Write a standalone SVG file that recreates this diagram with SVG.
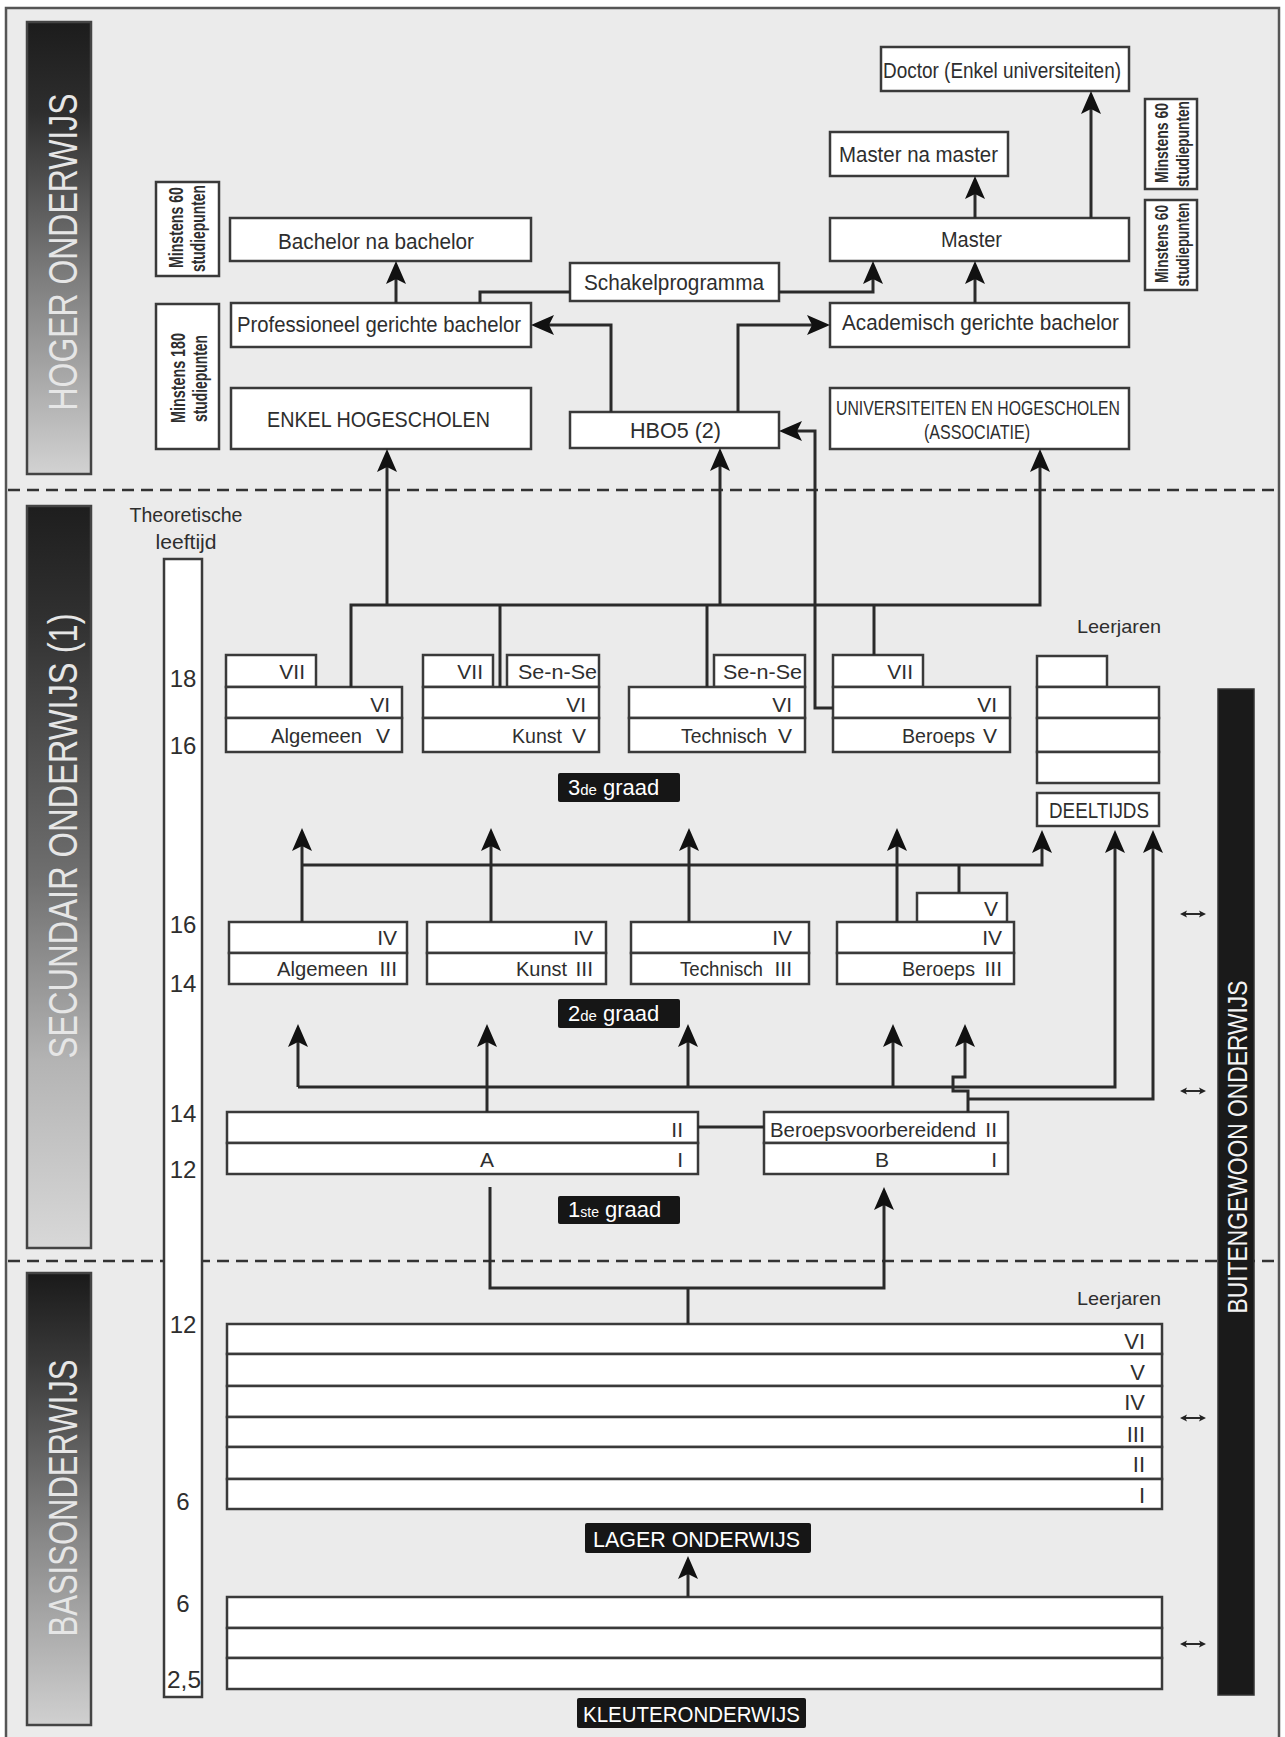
<svg xmlns="http://www.w3.org/2000/svg" width="1285" height="1737" viewBox="0 0 1285 1737">
<style>
.box{fill:#fff;stroke:#3a3a3a;stroke-width:2.5}
.ln{fill:none;stroke:#2a2a2a;stroke-width:3}
.arr{marker-end:url(#ah)}
.dash{fill:none;stroke:#333;stroke-width:2.5;stroke-dasharray:12 7}
.t{font-family:"Liberation Sans",Arial,sans-serif;fill:#2e2e2e}
.f22{font-size:22px}
.f21{font-size:21px}
.f19{font-size:19px}
.e{text-anchor:end}
.age{font-size:24px;text-anchor:middle}
.mn{font-size:21px;font-weight:bold;text-anchor:middle}
.bar{font-family:"Liberation Sans",Arial,sans-serif;font-size:40px;fill:#e6e6e6;text-anchor:middle}
.lbl{fill:#161616}
.lt{font-family:"Liberation Sans",Arial,sans-serif;fill:#fff;font-size:22px}
.sm{fill:none;stroke:#2a2a2a;stroke-width:2;marker-start:url(#sa);marker-end:url(#sa)}
</style>
<defs>
<marker id="ah" viewBox="-24 -11 25 22" markerWidth="25" markerHeight="22" refX="-10" refY="0" orient="auto" markerUnits="userSpaceOnUse">
<path d="M0,0 L-23,-10 L-18,0 L-23,10 Z" fill="#111"/>
</marker>
<marker id="sa" viewBox="-8 -4 9 8" markerWidth="9" markerHeight="8" refX="-3" refY="0" orient="auto-start-reverse" markerUnits="userSpaceOnUse">
<path d="M0,0 L-7,-3.5 L-5.5,0 L-7,3.5 Z" fill="#222"/>
</marker>
<linearGradient id="gH" x1="0" y1="0" x2="0" y2="1">
<stop offset="0" stop-color="#1c1c1c"/><stop offset="0.2" stop-color="#2e2e2e"/><stop offset="0.55" stop-color="#7a7a7a"/><stop offset="1" stop-color="#d2d2d2"/>
</linearGradient>
<linearGradient id="gS" x1="0" y1="0" x2="0" y2="1">
<stop offset="0" stop-color="#1e1e1e"/><stop offset="0.15" stop-color="#303030"/><stop offset="0.5" stop-color="#6f6f6f"/><stop offset="0.75" stop-color="#b4b4b4"/><stop offset="1" stop-color="#d8d8d8"/>
</linearGradient>
<linearGradient id="gB" x1="0" y1="0" x2="0" y2="1">
<stop offset="0" stop-color="#1a1a1a"/><stop offset="0.2" stop-color="#3a3a3a"/><stop offset="0.6" stop-color="#8a8a8a"/><stop offset="1" stop-color="#d0d0d0"/>
</linearGradient>
</defs>

<rect x="0" y="0" width="1285" height="1737" fill="#ffffff"/>
<rect id="frame" x="6" y="8" width="1273" height="1740" fill="#ebebeb" stroke="#555" stroke-width="2.5"/>

<g id="dividers">
<line class="dash" x1="8" y1="490" x2="1278" y2="490"/>
<line class="dash" x1="8" y1="1261" x2="1278" y2="1261"/>
</g>

<g id="bar-hoger">
<rect x="27" y="22" width="64" height="452" fill="url(#gH)" stroke="#444" stroke-width="2.5"/>
<text class="bar" transform="translate(77,252) rotate(-90)" textLength="317" lengthAdjust="spacingAndGlyphs">HOGER ONDERWIJS</text>
</g>
<g id="bar-secundair">
<rect x="27" y="506" width="64" height="742" fill="url(#gS)" stroke="#444" stroke-width="2.5"/>
<text class="bar" transform="translate(77,836) rotate(-90)" textLength="445" lengthAdjust="spacingAndGlyphs">SECUNDAIR ONDERWIJS (1)</text>
</g>
<g id="bar-basis">
<rect x="27" y="1273" width="64" height="452" fill="url(#gB)" stroke="#444" stroke-width="2.5"/>
<text class="bar" transform="translate(77,1498) rotate(-90)" textLength="277" lengthAdjust="spacingAndGlyphs">BASISONDERWIJS</text>
</g>

<g id="leeftijd">
<text class="t f21" x="186" y="522" text-anchor="middle" textLength="113" lengthAdjust="spacingAndGlyphs">Theoretische</text>
<text class="t f21" x="186" y="549" text-anchor="middle" textLength="61" lengthAdjust="spacingAndGlyphs">leeftijd</text>
<rect class="box" x="164" y="559" width="38" height="1138"/>
<text class="t age" x="183" y="687">18</text>
<text class="t age" x="183" y="754">16</text>
<text class="t age" x="183" y="933">16</text>
<text class="t age" x="183" y="992">14</text>
<text class="t age" x="183" y="1122">14</text>
<text class="t age" x="183" y="1178">12</text>
<text class="t age" x="183" y="1333">12</text>
<text class="t age" x="183" y="1510">6</text>
<text class="t age" x="183" y="1612">6</text>
<text class="t age" x="184" y="1688" textLength="34" lengthAdjust="spacingAndGlyphs">2,5</text>
</g>

<g id="buitengewoon">
<rect x="1218" y="689" width="36" height="1006" fill="#1a1a1a" stroke="#333" stroke-width="1.5"/>
<text transform="translate(1247,1147) rotate(-90)" font-family="Liberation Sans, Arial, sans-serif" font-size="28" fill="#f4f4f4" text-anchor="middle" textLength="333" lengthAdjust="spacingAndGlyphs">BUITENGEWOON ONDERWIJS</text>
</g>

<g id="minstens60-links">
<rect class="box" x="156" y="182" width="63" height="94"/>
<text class="t mn" transform="translate(183,227.5) rotate(-90)" textLength="81" lengthAdjust="spacingAndGlyphs">Minstens 60</text>
<text class="t mn" transform="translate(205,228.5) rotate(-90)" textLength="87" lengthAdjust="spacingAndGlyphs">studiepunten</text>
</g>
<g id="minstens180">
<rect class="box" x="156" y="304" width="63" height="145"/>
<text class="t mn" transform="translate(185,378) rotate(-90)" textLength="90" lengthAdjust="spacingAndGlyphs">Minstens 180</text>
<text class="t mn" transform="translate(207,378.5) rotate(-90)" textLength="87" lengthAdjust="spacingAndGlyphs">studiepunten</text>
</g>
<g id="minstens60-r1">
<rect class="box" x="1145" y="99" width="52" height="90"/>
<text class="t mn" style="font-size:19px" transform="translate(1168,143) rotate(-90)" textLength="80" lengthAdjust="spacingAndGlyphs">Minstens 60</text>
<text class="t mn" style="font-size:19px" transform="translate(1189,144) rotate(-90)" textLength="86" lengthAdjust="spacingAndGlyphs">studiepunten</text>
</g>
<g id="minstens60-r2">
<rect class="box" x="1145" y="200" width="52" height="90"/>
<text class="t mn" style="font-size:19px" transform="translate(1168,244) rotate(-90)" textLength="78" lengthAdjust="spacingAndGlyphs">Minstens 60</text>
<text class="t mn" style="font-size:19px" transform="translate(1189,244.5) rotate(-90)" textLength="84" lengthAdjust="spacingAndGlyphs">studiepunten</text>
</g>
<g id="bachelor-na-bachelor">
<rect class="box" x="230" y="218" width="301" height="43"/>
<text class="t f22" x="278" y="249" textLength="196" lengthAdjust="spacingAndGlyphs">Bachelor na bachelor</text>
</g>
<g id="professioneel">
<rect class="box" x="231" y="303" width="300" height="44"/>
<text class="t f22" x="237" y="332" textLength="284" lengthAdjust="spacingAndGlyphs">Professioneel gerichte bachelor</text>
</g>
<g id="enkel-hogescholen">
<rect class="box" x="231" y="388" width="300" height="61"/>
<text class="t f22" x="267" y="427" textLength="223" lengthAdjust="spacingAndGlyphs">ENKEL HOGESCHOLEN</text>
</g>
<g id="schakelprogramma">
<rect class="box" x="570" y="263" width="209" height="38"/>
<text class="t f22" x="584" y="290" textLength="180" lengthAdjust="spacingAndGlyphs">Schakelprogramma</text>
</g>
<g id="hbo5">
<rect class="box" x="570" y="412" width="209" height="36"/>
<text class="t f22" x="630" y="438" textLength="91" lengthAdjust="spacingAndGlyphs">HBO5 (2)</text>
</g>
<g id="doctor">
<rect class="box" x="881" y="47" width="248" height="44"/>
<text class="t f22" x="883" y="78" textLength="238" lengthAdjust="spacingAndGlyphs">Doctor (Enkel universiteiten)</text>
</g>
<g id="master-na-master">
<rect class="box" x="830" y="132" width="178" height="44"/>
<text class="t f22" x="839" y="162" textLength="159" lengthAdjust="spacingAndGlyphs">Master na master</text>
</g>
<g id="master">
<rect class="box" x="830" y="218" width="299" height="43"/>
<text class="t f22" x="941" y="247" textLength="61" lengthAdjust="spacingAndGlyphs">Master</text>
</g>
<g id="academisch">
<rect class="box" x="830" y="303" width="299" height="44"/>
<text class="t f22" x="842" y="330" textLength="277" lengthAdjust="spacingAndGlyphs">Academisch gerichte bachelor</text>
</g>
<g id="universiteiten">
<rect class="box" x="830" y="388" width="299" height="61"/>
<text class="t f21" x="836" y="415" textLength="284" lengthAdjust="spacingAndGlyphs">UNIVERSITEITEN EN HOGESCHOLEN</text>
<text class="t f21" x="924" y="439" textLength="106" lengthAdjust="spacingAndGlyphs">(ASSOCIATIE)</text>
</g>

<g id="algemeen-3">
<rect class="box" x="226" y="655" width="90" height="32"/>
<rect class="box" x="226" y="687" width="176" height="31"/>
<rect class="box" x="226" y="718" width="176" height="34"/>
<text class="t f21 e" x="305" y="679">VII</text>
<text class="t f21 e" x="390" y="712">VI</text>
<text class="t f21" x="271" y="743" textLength="91" lengthAdjust="spacingAndGlyphs">Algemeen</text>
<text class="t f21 e" x="390" y="743">V</text>
</g>
<g id="kunst-3">
<rect class="box" x="423" y="655" width="70" height="32"/>
<rect class="box" x="507" y="655" width="92" height="32"/>
<rect class="box" x="423" y="687" width="176" height="31"/>
<rect class="box" x="423" y="718" width="176" height="34"/>
<text class="t f21 e" x="483" y="679">VII</text>
<text class="t f21" x="518" y="679" textLength="79" lengthAdjust="spacingAndGlyphs">Se-n-Se</text>
<text class="t f21 e" x="586" y="712">VI</text>
<text class="t f21" x="512" y="743" textLength="50" lengthAdjust="spacingAndGlyphs">Kunst</text>
<text class="t f21 e" x="586" y="743">V</text>
</g>
<g id="technisch-3">
<rect class="box" x="714" y="655" width="91" height="32"/>
<rect class="box" x="629" y="687" width="176" height="31"/>
<rect class="box" x="629" y="718" width="176" height="34"/>
<text class="t f21" x="723" y="679" textLength="79" lengthAdjust="spacingAndGlyphs">Se-n-Se</text>
<text class="t f21 e" x="792" y="712">VI</text>
<text class="t f21" x="681" y="743" textLength="86" lengthAdjust="spacingAndGlyphs">Technisch</text>
<text class="t f21 e" x="792" y="743">V</text>
</g>
<g id="beroeps-3">
<rect class="box" x="833" y="655" width="90" height="32"/>
<rect class="box" x="833" y="687" width="177" height="31"/>
<rect class="box" x="833" y="718" width="177" height="34"/>
<text class="t f21 e" x="913" y="679">VII</text>
<text class="t f21 e" x="997" y="712">VI</text>
<text class="t f21" x="902" y="743" textLength="73" lengthAdjust="spacingAndGlyphs">Beroeps</text>
<text class="t f21 e" x="997" y="743">V</text>
</g>
<g id="leerjaren-3">
<text class="t f19" x="1119" y="633" text-anchor="middle" textLength="84" lengthAdjust="spacingAndGlyphs">Leerjaren</text>
<rect class="box" x="1037" y="656" width="70" height="31"/>
<rect class="box" x="1037" y="687" width="122" height="31"/>
<rect class="box" x="1037" y="718" width="122" height="34"/>
<rect class="box" x="1037" y="752" width="122" height="31"/>
</g>
<g id="deeltijds">
<rect class="box" x="1037" y="793" width="122" height="33"/>
<text class="t f22" x="1049" y="818" textLength="100" lengthAdjust="spacingAndGlyphs">DEELTIJDS</text>
</g>
<g id="label-3de-graad">
<rect class="lbl" x="558" y="773" width="122" height="29" rx="2"/>
<text class="lt" x="568" y="795">3<tspan style="font-size:15px">de</tspan> graad</text>
</g>

<g id="algemeen-2">
<rect class="box" x="229" y="922" width="178" height="31"/>
<rect class="box" x="229" y="953" width="178" height="31"/>
<text class="t f21 e" x="397" y="945">IV</text>
<text class="t f21" x="277" y="976" textLength="91" lengthAdjust="spacingAndGlyphs">Algemeen</text>
<text class="t f21 e" x="397" y="976">III</text>
</g>
<g id="kunst-2">
<rect class="box" x="427" y="922" width="179" height="31"/>
<rect class="box" x="427" y="953" width="179" height="31"/>
<text class="t f21 e" x="593" y="945">IV</text>
<text class="t f21" x="516" y="976" textLength="51" lengthAdjust="spacingAndGlyphs">Kunst</text>
<text class="t f21 e" x="593" y="976">III</text>
</g>
<g id="technisch-2">
<rect class="box" x="631" y="922" width="178" height="31"/>
<rect class="box" x="631" y="953" width="178" height="31"/>
<text class="t f21 e" x="792" y="945">IV</text>
<text class="t f21" x="680" y="976" textLength="83" lengthAdjust="spacingAndGlyphs">Technisch</text>
<text class="t f21 e" x="792" y="976">III</text>
</g>
<g id="beroeps-2">
<rect class="box" x="917" y="893" width="90" height="29"/>
<rect class="box" x="837" y="922" width="177" height="31"/>
<rect class="box" x="837" y="953" width="177" height="31"/>
<text class="t f21 e" x="998" y="916">V</text>
<text class="t f21 e" x="1002" y="945">IV</text>
<text class="t f21" x="902" y="976" textLength="73" lengthAdjust="spacingAndGlyphs">Beroeps</text>
<text class="t f21 e" x="1002" y="976">III</text>
</g>
<g id="label-2de-graad">
<rect class="lbl" x="558" y="999" width="122" height="29" rx="2"/>
<text class="lt" x="568" y="1021">2<tspan style="font-size:15px">de</tspan> graad</text>
</g>

<g id="a-stroom">
<rect class="box" x="227" y="1112" width="471" height="31"/>
<rect class="box" x="227" y="1143" width="471" height="31"/>
<text class="t f21 e" x="683" y="1137">II</text>
<text class="t f21" x="487" y="1167" text-anchor="middle">A</text>
<text class="t f21 e" x="683" y="1167">I</text>
</g>
<g id="b-stroom">
<rect class="box" x="764" y="1112" width="244" height="31"/>
<rect class="box" x="764" y="1143" width="244" height="31"/>
<text class="t f21" x="770" y="1137" textLength="206" lengthAdjust="spacingAndGlyphs">Beroepsvoorbereidend</text>
<text class="t f21 e" x="997" y="1137">II</text>
<text class="t f21" x="882" y="1167" text-anchor="middle">B</text>
<text class="t f21 e" x="997" y="1167">I</text>
</g>
<g id="label-1ste-graad">
<rect class="lbl" x="558" y="1196" width="122" height="28" rx="2"/>
<text class="lt" x="568" y="1217">1<tspan style="font-size:14px">ste</tspan> graad</text>
</g>

<g id="leerjaren-basis">
<text class="t f19" x="1119" y="1305" text-anchor="middle" textLength="84" lengthAdjust="spacingAndGlyphs">Leerjaren</text>
</g>
<g id="lager-onderwijs">
<rect class="box" x="227" y="1324" width="935" height="30"/>
<rect class="box" x="227" y="1354" width="935" height="32"/>
<rect class="box" x="227" y="1386" width="935" height="31"/>
<rect class="box" x="227" y="1417" width="935" height="30"/>
<rect class="box" x="227" y="1447" width="935" height="32"/>
<rect class="box" x="227" y="1479" width="935" height="30"/>
<text class="t f22 e" x="1145" y="1349">VI</text>
<text class="t f22 e" x="1145" y="1380">V</text>
<text class="t f22 e" x="1145" y="1410">IV</text>
<text class="t f22 e" x="1145" y="1442">III</text>
<text class="t f22 e" x="1145" y="1472">II</text>
<text class="t f22 e" x="1145" y="1503">I</text>
</g>
<g id="label-lager">
<rect class="lbl" x="585" y="1523" width="226" height="30" rx="2"/>
<text class="lt" x="593" y="1547" textLength="207" lengthAdjust="spacingAndGlyphs">LAGER ONDERWIJS</text>
</g>
<g id="kleuteronderwijs">
<rect class="box" x="227" y="1597" width="935" height="31"/>
<rect class="box" x="227" y="1628" width="935" height="30"/>
<rect class="box" x="227" y="1658" width="935" height="31"/>
</g>
<g id="label-kleuter">
<rect class="lbl" x="577" y="1698" width="229" height="30" rx="2"/>
<text class="lt" x="583" y="1722" textLength="217" lengthAdjust="spacingAndGlyphs">KLEUTERONDERWIJS</text>
</g>

<g id="connectors">
<path class="ln arr" d="M396,303 V271"/>
<path class="ln" d="M480,303 V292 H570"/>
<path class="ln arr" d="M779,292 H873 V271"/>
<path class="ln arr" d="M975,303 V271"/>
<path class="ln arr" d="M975,218 V186"/>
<path class="ln arr" d="M1091,218 V101"/>
<path class="ln arr" d="M611,412 V325 H541"/>
<path class="ln arr" d="M738,412 V325 H820"/>
<path class="ln arr" d="M833,708 H815 V431 H789"/>
<path class="ln arr" d="M351,687 V605 H1040 V459"/>
<path class="ln arr" d="M387,605 V459"/>
<path class="ln arr" d="M720,605 V458"/>
<path class="ln" d="M500,687 V605"/>
<path class="ln" d="M707,687 V605"/>
<path class="ln" d="M874,655 V605"/>
<path class="ln arr" d="M302,922 V838"/>
<path class="ln arr" d="M302,865 H1042 V840"/>
<path class="ln arr" d="M491,922 V838"/>
<path class="ln arr" d="M689,922 V838"/>
<path class="ln arr" d="M897,922 V838"/>
<path class="ln" d="M959,893 V865"/>
<path class="ln arr" d="M298,1087 V1034"/>
<path class="ln arr" d="M298,1087 H1115 V840"/>
<path class="ln arr" d="M487,1112 V1034"/>
<path class="ln arr" d="M688,1087 V1034"/>
<path class="ln arr" d="M893,1087 V1034"/>
<path class="ln arr" d="M968,1112 V1091 H953 V1077 H965 V1034"/>
<path class="ln arr" d="M968,1099 H1153 V840"/>
<path class="ln" d="M698,1127 H764"/>
<path class="ln arr" d="M490,1187 V1288 H884 V1197"/>
<path class="ln" d="M688,1288 V1324"/>
<path class="ln arr" d="M688,1597 V1566"/>
<path class="sm" d="M1183,914 H1203"/>
<path class="sm" d="M1183,1091 H1203"/>
<path class="sm" d="M1183,1418 H1203"/>
<path class="sm" d="M1183,1644 H1203"/>
</g>
</svg>
